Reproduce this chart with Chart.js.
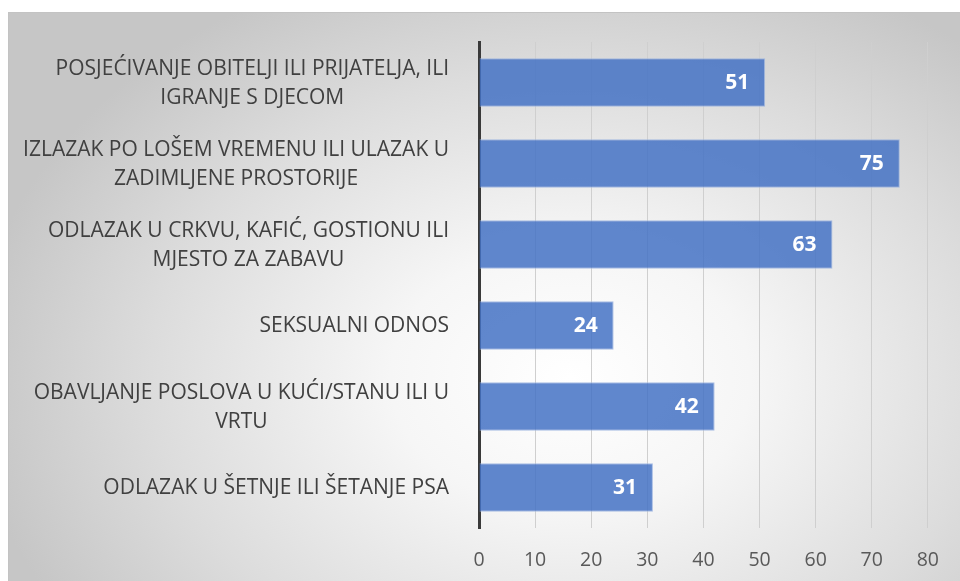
<!DOCTYPE html>
<html>
<head>
<meta charset="utf-8">
<script src="https://cdn.jsdelivr.net/npm/chart.js@4"></script>
<style>
  html, body { margin:0; padding:0; background:#fff; overflow:hidden; }
  #wrap { position:relative; width:960px; height:581px; }
  #bg {
    position:absolute; left:8px; top:12px; width:970px; height:590px;
    border:1px solid #c3c3c3; box-sizing:border-box;
    background: radial-gradient(ellipse 62% 75% at 58% 62%, #ffffff 0%, #f6f6f6 30%, #dcdcdc 70%, #c6c6c6 100%);
  }
  #chart { position:absolute; left:0; top:0; }
</style>
</head>
<body>
<div id="wrap">
  <div id="bg"></div>
  <canvas id="chart" width="960" height="581"></canvas>
</div>
<script>
// Data
const categories = [
  ['POSJEĆIVANJE OBITELJI ILI PRIJATELJA, ILI', 'IGRANJE S DJECOM'],
  ['IZLAZAK PO LOŠEM VREMENU ILI ULAZAK U', 'ZADIMLJENE PROSTORIJE'],
  ['ODLAZAK U CRKVU, KAFIĆ, GOSTIONU ILI', 'MJESTO ZA ZABAVU'],
  ['SEKSUALNI ODNOS'],
  ['OBAVLJANJE POSLOVA U KUĆI/STANU ILI U', 'VRTU'],
  ['ODLAZAK U ŠETNJE ILI ŠETANJE PSA']
];
const values = [51, 75, 63, 24, 42, 31];
const xTicks = [0, 10, 20, 30, 40, 50, 60, 70, 80];

const FONT = '"Open Sans", "Noto Sans", sans-serif';

// category labels: each line centred in its own block, blocks right-aligned
const catLabels = {
  id: 'catLabels',
  afterDraw(chart) {
    const ctx = chart.ctx, y = chart.scales.y;
    ctx.save();
    ctx.font = '21px ' + FONT;
    ctx.fillStyle = '#404040';
    ctx.textAlign = 'center';
    ctx.textBaseline = 'middle';
    categories.forEach((lines, i) => {
      const cy = y.getPixelForTick(i);
      const w = Math.max(...lines.map(l => ctx.measureText(l).width));
      const cx = 449 - w / 2;
      lines.forEach((l, j) => ctx.fillText(l, cx, cy + (j - (lines.length - 1) / 2) * 29 + 1));
    });
    ctx.restore();
  }
};

// value labels inside bar ends
const valueLabels = {
  id: 'valueLabels',
  afterDatasetsDraw(chart) {
    const ctx = chart.ctx;
    ctx.save();
    ctx.font = 'bold 21px ' + FONT;
    ctx.fillStyle = '#ffffff';
    ctx.textAlign = 'right';
    ctx.textBaseline = 'middle';
    chart.getDatasetMeta(0).data.forEach((bar, i) => {
      ctx.fillText(values[i], bar.x - 16, bar.y + 1);
    });
    ctx.restore();
  }
};

new Chart(document.getElementById('chart'), {
  type: 'bar',
  data: {
    labels: categories,
    datasets: [{
      data: values,
      backgroundColor: 'rgba(68,114,196,0.85)',
      borderColor: 'rgba(150,175,222,0.8)',
      borderWidth: 1,
      borderSkipped: 'left',
      categoryPercentage: 0.6,
      barPercentage: 1
    }]
  },
  options: {
    indexAxis: 'y',
    responsive: false,
    animation: false,
    layout: { padding: { left: 0, top: 42, right: 30, bottom: 0 } },
    plugins: { legend: { display: false }, tooltip: { enabled: false } },
    scales: {
      x: {
        min: 0, max: 80,
        afterBuildTicks: s => { s.ticks = xTicks.map(v => ({ value: v })); },
        afterFit: s => { s.height = 53; },
        grid: { color: '#cfcfcf', lineWidth: 1, drawTicks: false },
        border: { display: false },
        ticks: { color: '#595959', font: { family: FONT, size: 19.5 }, padding: 21 }
      },
      y: {
        afterFit: s => { s.width = 479; },
        grid: { display: false },
        border: { color: '#3a3a3a', width: 3 },
        ticks: { display: false }
      }
    }
  },
  plugins: [catLabels, valueLabels]
});
</script>
</body>
</html>
